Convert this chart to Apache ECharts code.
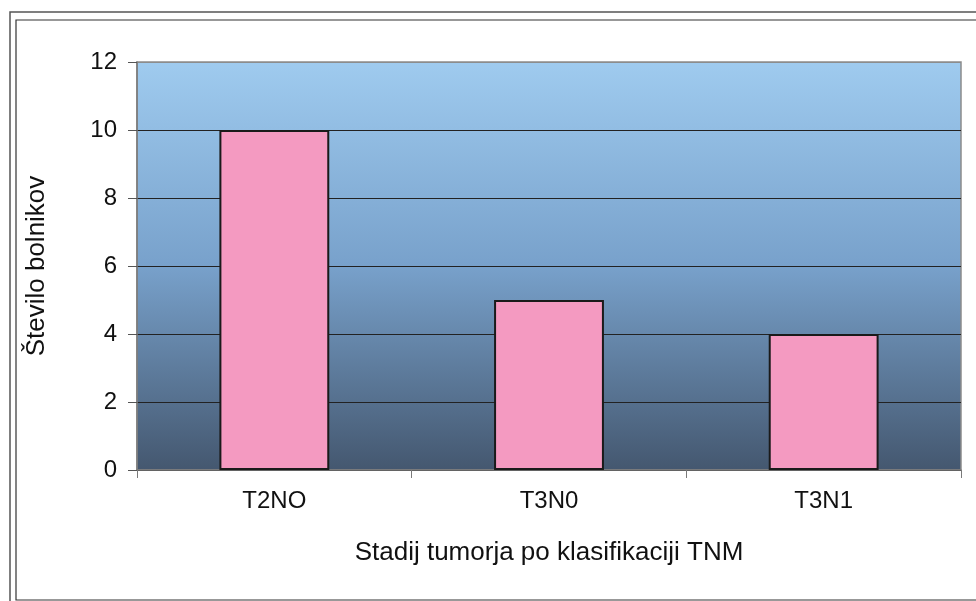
<!DOCTYPE html>
<html><head><meta charset="utf-8">
<script src="https://cdn.jsdelivr.net/npm/echarts@6/dist/echarts.min.js"></script>
<style>html,body{margin:0;padding:0;background:#fff}#c{width:976px;height:601px}</style>
</head><body><div id="c"></div>
<script>
const categories = ['T2NO', 'T3N0', 'T3N1'];
const values = [10, 5, 4];
const yTicks = [0, 2, 4, 6, 8, 10, 12];
const xTitle = 'Stadij tumorja po klasifikaciji TNM';
const yTitle = 'Število bolnikov';

const chart = echarts.init(document.getElementById('c'), null, {renderer: 'canvas'});
const font = '"Liberation Sans", Arial, sans-serif';
chart.setOption({
  animation: false,
  graphic: [
    {type: 'rect', shape: {x: 10, y: 12, width: 980, height: 600}, style: {fill: 'none', stroke: '#555', lineWidth: 1.5}},
    {type: 'rect', shape: {x: 16, y: 20, width: 980, height: 580}, style: {fill: 'none', stroke: '#333', lineWidth: 1.2}}
  ],
  grid: {
    left: 137, top: 62, right: 15, bottom: 131,
    show: true, borderColor: '#8c8c8c', borderWidth: 1.5,
    backgroundColor: new echarts.graphic.LinearGradient(0, 0, 0, 1, [
      {offset: 0, color: '#9fcbef'},
      {offset: 0.5, color: '#78a1cb'},
      {offset: 1, color: '#44576f'}
    ])
  },
  xAxis: {
    type: 'category', data: categories,
    axisLine: {lineStyle: {color: '#7a7a7a', width: 1.5}},
    axisTick: {show: true, length: 8, alignWithLabel: false, lineStyle: {color: '#7a7a7a'}},
    axisLabel: {color: '#111', fontFamily: font, fontSize: 24, margin: 19},
    name: xTitle, nameLocation: 'middle', nameGap: 70,
    nameTextStyle: {color: '#111', fontFamily: font, fontSize: 26}
  },
  yAxis: {
    type: 'value', min: 0, max: 12, interval: 2,
    axisLine: {show: true, lineStyle: {color: '#7a7a7a', width: 1.5}},
    axisTick: {show: true, length: 9, inside: false, lineStyle: {color: '#555'}},
    axisLabel: {color: '#111', fontFamily: font, fontSize: 24, margin: 20,
      formatter: v => yTicks.includes(v) ? String(v) : ''},
    splitLine: {show: true, lineStyle: {color: ['#222','#222','#222','#222','#222','#222','#8c8c8c'], width: 1}},
    name: yTitle, nameLocation: 'middle', nameGap: 87,
    nameTextStyle: {color: '#111', fontFamily: font, fontSize: 26}
  },
  series: [{
    type: 'bar', data: values, barWidth: '40%',
    itemStyle: {color: '#f49ac1', borderColor: '#1a1a1a', borderWidth: 2}
  }]
});
</script></body></html>
